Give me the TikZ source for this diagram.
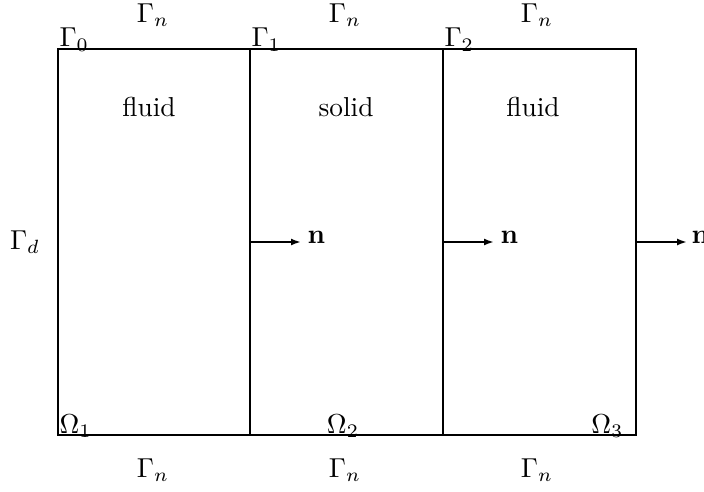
\documentclass[tikz,border=0pt]{standalone}
\usetikzlibrary{arrows.meta}
\begin{document}
\begin{tikzpicture}[x=0.5pt,y=-0.5pt,
  thinline/.style={line width=0.9pt},
  thickline/.style={line width=1.4pt},
  normal/.style={-{Latex[length=5pt,width=3.5pt]},line width=1.1pt},
  lab/.style={inner sep=0pt,scale=1.37}]
\useasboundingbox (0,0) rectangle (704,491);
\coordinate (tl) at (58,49);
\coordinate (bl) at (58,435);
\coordinate (t1) at (250,49);
\coordinate (b1) at (250,435);
\coordinate (t2) at (443,49);
\coordinate (b2) at (443,435);
\coordinate (tr) at (636,49);
\coordinate (br) at (636,435);
\draw[thinline] (tl) -- (tr) -- (br) -- (bl) -- cycle;
\draw[thinline] (t2) -- (b2);
\draw[thickline] (t1) -- (b1);
% normals
\coordinate (m1) at (250,242);
\coordinate (m2) at (443,242);
\coordinate (m3) at (636,242);
\coordinate (e1) at (301,242);
\coordinate (e2) at (494,242);
\coordinate (e3) at (687,242);
\draw[normal] (m1) -- (e1);
\draw[normal] (m2) -- (e2);
\draw[normal] (m3) -- (e3);
\node[lab,anchor=west] (n1) at (307,237) {$\mathbf{n}$};
\node[lab,anchor=west] (n2) at (500,237) {$\mathbf{n}$};
\node[lab,anchor=west] (n3) at (691,237) {$\mathbf{n}$};
% top labels
\node[lab] (gt1) at (153,15) {$\Gamma_n$};
\node[lab] (gt2) at (345,15) {$\Gamma_n$};
\node[lab] (gt3) at (537,15) {$\Gamma_n$};
\node[lab,anchor=base west] (g0) at (59,47) {$\Gamma_0$};
\node[lab,anchor=base west] (g1) at (251,47) {$\Gamma_1$};
\node[lab,anchor=base west] (g2) at (444,47) {$\Gamma_2$};
\node[lab] (f1) at (149,107) {fluid};
\node[lab] (s) at (346,107) {solid};
\node[lab] (f2) at (533,107) {fluid};
\node[lab] (gd) at (25,242) {$\Gamma_d$};
\node[lab,anchor=base west] (o1) at (59,433) {$\Omega_1$};
\node[lab,anchor=base] (o2) at (343,433) {$\Omega_2$};
\node[lab,anchor=base east] (o3) at (624,433) {$\Omega_3$};
\node[lab] (gb1) at (153,470) {$\Gamma_n$};
\node[lab] (gb2) at (345,470) {$\Gamma_n$};
\node[lab] (gb3) at (537,470) {$\Gamma_n$};
\end{tikzpicture}
\end{document}
